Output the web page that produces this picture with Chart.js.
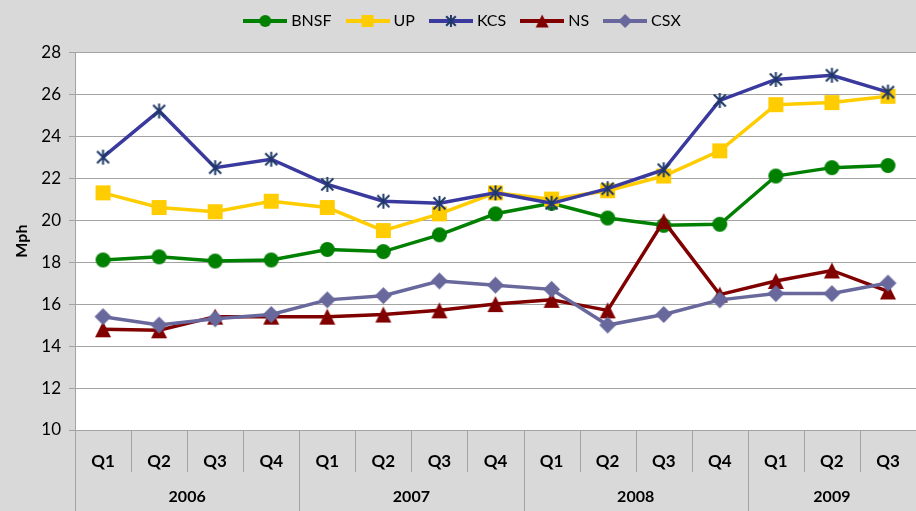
<!DOCTYPE html>
<html>
<head>
<meta charset="utf-8">
<title>Train speed by railroad</title>
<script src="https://cdn.jsdelivr.net/npm/chart.js@4.4.0/dist/chart.umd.min.js"></script>
<style>
  html, body { margin: 0; padding: 0; background: #d9d9d9; }
</style>
</head>
<body>
<canvas id="mycanvas" width="916" height="511"></canvas>
<script>
var quarters = ['Q1','Q2','Q3','Q4','Q1','Q2','Q3','Q4','Q1','Q2','Q3','Q4','Q1','Q2','Q3'];
var years = ['2006', '2007', '2008', '2009'];
var quartersPerYear = [4, 4, 4, 3];
var yTicks = [10, 12, 14, 16, 18, 20, 22, 24, 26, 28];

var bnsf = [18.1, 18.25, 18.05, 18.1, 18.6, 18.5, 19.3, 20.3, 20.8, 20.1, 19.75, 19.8, 22.1, 22.5, 22.6];
var up   = [21.3, 20.6, 20.4, 20.9, 20.6, 19.5, 20.3, 21.3, 21.0, 21.4, 22.1, 23.3, 25.5, 25.6, 25.9];
var kcs  = [23.0, 25.2, 22.5, 22.9, 21.7, 20.9, 20.8, 21.3, 20.8, 21.5, 22.4, 25.7, 26.7, 26.9, 26.1];
var ns   = [14.8, 14.75, 15.4, 15.4, 15.4, 15.5, 15.7, 16.0, 16.2, 15.7, 19.95, 16.45, 17.1, 17.6, 16.6];
var csx  = [15.4, 15.0, 15.3, 15.5, 16.2, 16.4, 17.1, 16.9, 16.7, 15.0, 15.5, 16.2, 16.5, 16.5, 17.0];

var FONT = 'Lato, "Open Sans", sans-serif';
var GRID = '#a3a3a3';

function drawMarker(g, kind, color, cx, cy, s) {
  var h = s / 2;
  g.fillStyle = color;
  g.strokeStyle = color;
  g.beginPath();
  if (kind == 'circle') {
    g.arc(cx, cy, h, 0, Math.PI * 2);
    g.fill();
  } else if (kind == 'square') {
    g.fillRect(cx - h, cy - h, s, s);
  } else if (kind == 'triangle') {
    g.moveTo(cx, cy - h);
    g.lineTo(cx + h, cy + h);
    g.lineTo(cx - h, cy + h);
    g.closePath();
    g.fill();
  } else if (kind == 'diamond') {
    g.moveTo(cx, cy - h);
    g.lineTo(cx + h, cy);
    g.lineTo(cx, cy + h);
    g.lineTo(cx - h, cy);
    g.closePath();
    g.fill();
  } else if (kind == 'star') {
    var d = h * 0.8;
    g.lineWidth = 2;
    g.moveTo(cx - d, cy - d); g.lineTo(cx + d, cy + d);
    g.moveTo(cx + d, cy - d); g.lineTo(cx - d, cy + d);
    g.moveTo(cx, cy - h); g.lineTo(cx, cy + h);
    g.stroke();
  }
}

function markerCanvas(kind, color, s) {
  var c = document.createElement('canvas');
  c.width = s + 2; c.height = s + 2;
  drawMarker(c.getContext('2d'), kind, color, (s + 2) / 2, (s + 2) / 2, s);
  return c;
}

function legendCanvas(kind, lineColor, markColor, s) {
  var c = document.createElement('canvas');
  c.width = 44; c.height = 18;
  var g = c.getContext('2d');
  g.strokeStyle = lineColor;
  g.lineWidth = 4;
  g.beginPath(); g.moveTo(0, 9); g.lineTo(44, 9); g.stroke();
  drawMarker(g, kind, markColor, 22, 9, s);
  return c;
}

var series = [
  {label: 'BNSF', data: bnsf, line: '#008000', mark: '#008000', kind: 'circle',   size: 15},
  {label: 'UP',   data: up,   line: '#ffcc00', mark: '#ffcc00', kind: 'square',   size: 15},
  {label: 'KCS',  data: kcs,  line: '#3a3a9e', mark: '#1f3868', kind: 'star',     size: 15},
  {label: 'NS',   data: ns,   line: '#800000', mark: '#800000', kind: 'triangle', size: 16},
  {label: 'CSX',  data: csx,  line: '#68689c', mark: '#68689c', kind: 'diamond',  size: 17}
];

var legendIcons = [];
var datasets = series.map(function(s, i) {
  legendIcons.push(legendCanvas(s.kind, s.line, s.mark, s.size - 3));
  return {
    label: s.label,
    data: s.data,
    borderColor: s.line,
    backgroundColor: s.mark,
    borderWidth: 3.5,
    tension: 0,
    pointStyle: markerCanvas(s.kind, s.mark, s.size),
    pointRadius: 8,
    order: series.length - i
  };
});

var background = {
  id: 'background',
  beforeDraw: function(chart) {
    var ctx = chart.ctx, a = chart.chartArea;
    ctx.save();
    ctx.fillStyle = '#d9d9d9';
    ctx.fillRect(0, 0, chart.width, chart.height);
    ctx.fillStyle = '#ffffff';
    ctx.fillRect(a.left, a.top, a.right - a.left, a.bottom - a.top);
    ctx.restore();
  }
};

// year row and the box lines under the quarters
var yearAxis = {
  id: 'yearAxis',
  afterDraw: function(chart) {
    var ctx = chart.ctx, x = chart.scales.x, a = chart.chartArea;
    var w = x.getPixelForValue(1) - x.getPixelForValue(0);
    ctx.save();
    ctx.strokeStyle = GRID;
    ctx.lineWidth = 1;
    var start = 0, yearEdges = [0];
    quartersPerYear.forEach(function(n) { start += n; yearEdges.push(start); });
    for (var i = 0; i <= quarters.length; i++) {
      var px = Math.round(x.getPixelForValue(i) - w / 2) + 0.5;
      var bottom = yearEdges.indexOf(i) >= 0 ? chart.height : a.bottom + 42;
      ctx.beginPath(); ctx.moveTo(px, a.bottom); ctx.lineTo(px, bottom); ctx.stroke();
    }
    ctx.fillStyle = '#000000';
    ctx.font = 'bold 16px ' + FONT;
    ctx.textAlign = 'center';
    ctx.textBaseline = 'middle';
    years.forEach(function(yr, k) {
      var first = yearEdges[k], last = yearEdges[k + 1] - 1;
      var cx = (x.getPixelForValue(first) + x.getPixelForValue(last)) / 2;
      ctx.fillText(yr, cx, 497);
    });
    ctx.restore();
  }
};

var ctx = document.getElementById('mycanvas');

var speedChart = new Chart(ctx, {
  type: 'line',
  data: { labels: quarters, datasets: datasets },
  plugins: [background, yearAxis],
  options: {
    responsive: false,
    animation: false,
    layout: { autoPadding: false, padding: { top: -5, right: 0, bottom: 0, left: 12 } },
    plugins: {
      tooltip: { enabled: false },
      // empty title only used as a spacer under the legend
      title: {
        display: true,
        text: '',
        weight: 500,
        font: { size: 1 },
        padding: { top: 0, bottom: 12 }
      },
      legend: {
        position: 'top',
        labels: {
          usePointStyle: true,
          pointStyleWidth: 36,
          padding: 18,
          color: '#000000',
          font: { family: FONT, size: 16 },
          generateLabels: function(chart) {
            var items = Chart.defaults.plugins.legend.labels.generateLabels(chart);
            items.forEach(function(it) { it.pointStyle = legendIcons[it.datasetIndex]; });
            return items;
          },
          sort: function(a, b) { return a.datasetIndex - b.datasetIndex; }
        }
      }
    },
    scales: {
      x: {
        offset: true,
        grid: { display: false, drawTicks: true, tickLength: 21 },
        border: { display: true, color: GRID },
        ticks: {
          color: '#000000',
          font: { family: FONT, size: 17, weight: 'bold' },
          padding: 0,
          maxRotation: 0,
          autoSkip: false
        },
        afterFit: function(scale) {
          scale.height = 81;
          scale.paddingLeft = 0;
          scale.paddingRight = 0;
        }
      },
      y: {
        min: 10,
        max: 28,
        afterBuildTicks: function(scale) {
          scale.ticks = yTicks.map(function(v) { return {value: v}; });
        },
        grid: { color: GRID, tickLength: 6, tickColor: GRID },
        border: { display: true, color: GRID },
        ticks: {
          color: '#000000',
          font: { family: FONT, size: 17 },
          padding: 8
        },
        title: {
          display: true,
          text: 'Mph',
          color: '#000000',
          font: { family: FONT, size: 16, weight: 'bold' },
          padding: { top: 0, bottom: 4 }
        },
        afterFit: function(scale) { scale.width = 63; }
      }
    }
  }
});
</script>
</body>
</html>
